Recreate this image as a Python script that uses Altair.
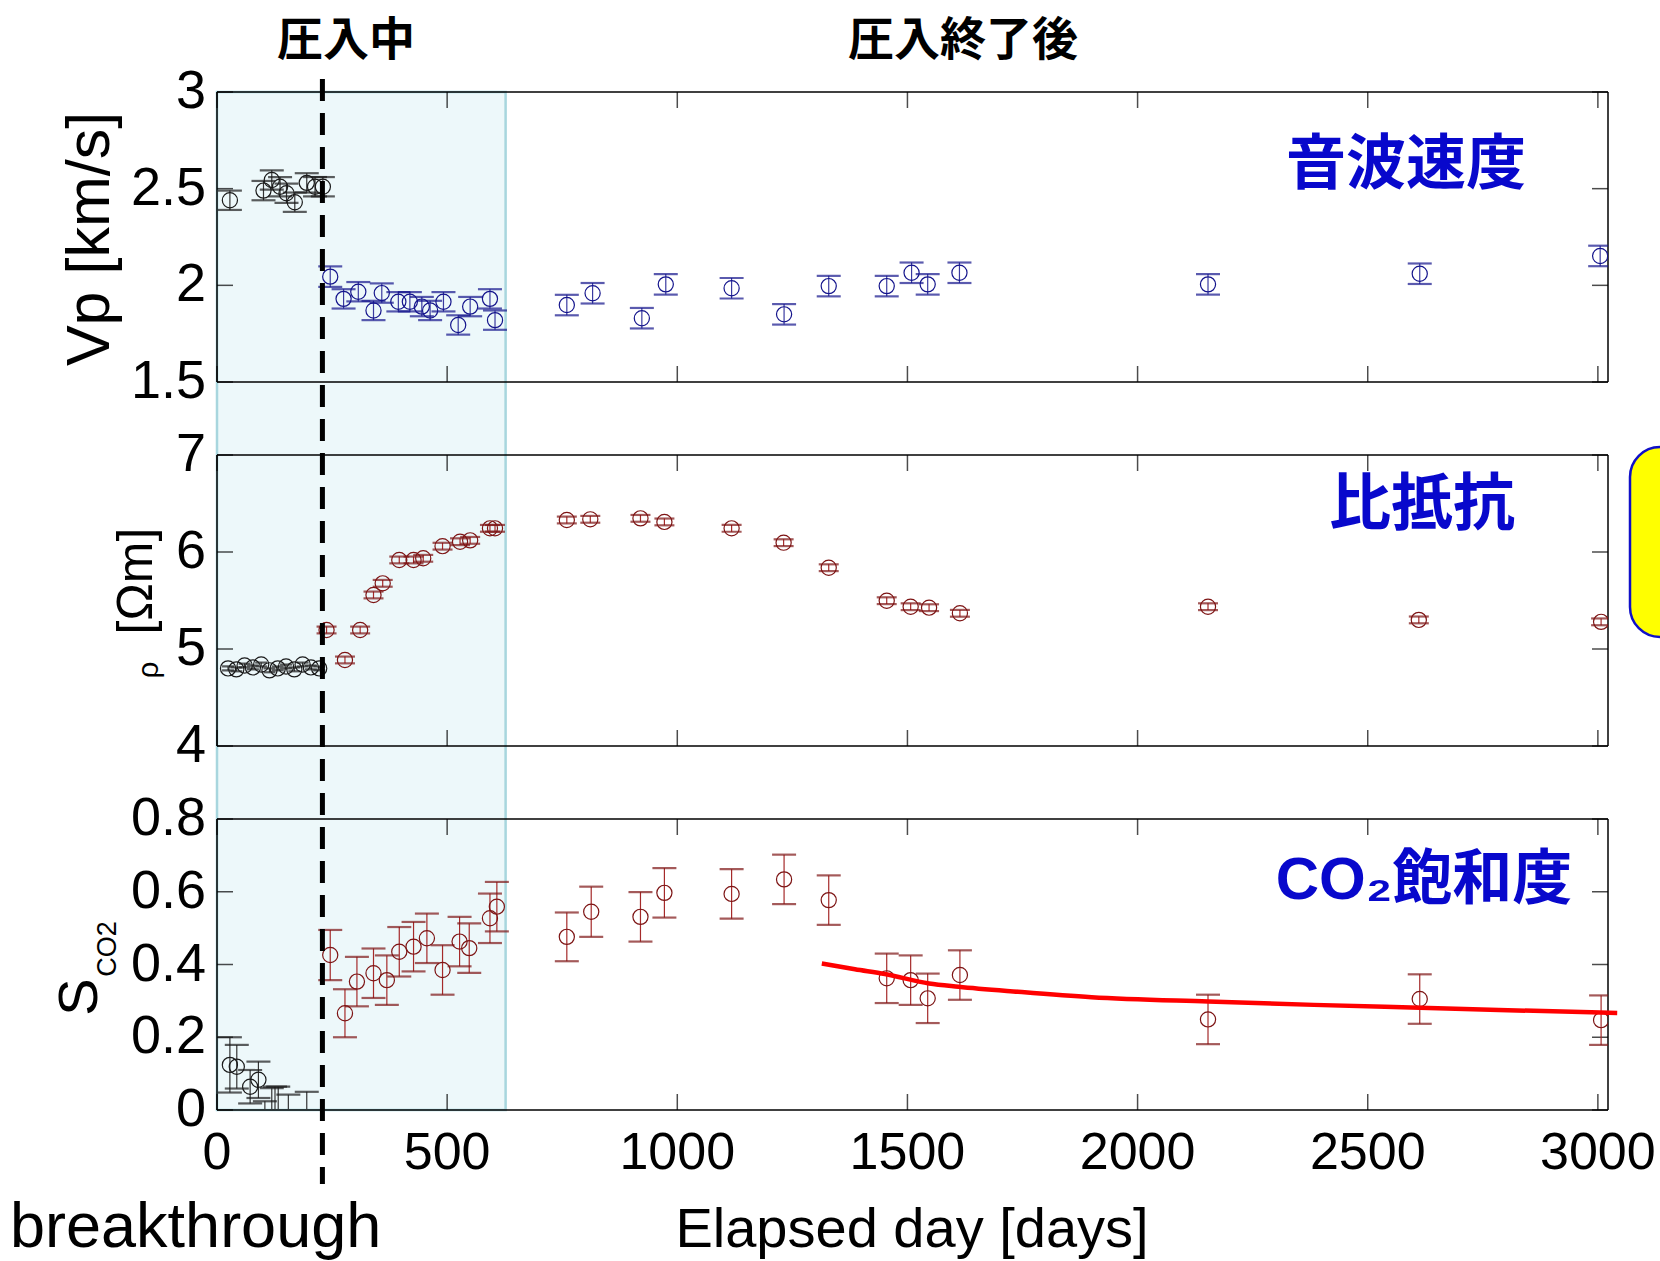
import altair as alt
import pandas as pd

# ---------------------------------------------------------------- data ---
# P-wave velocity [km/s]: before breakthrough (black) and after (blue)
vp_pre_day = [28, 101, 119, 137, 151, 169, 195, 213, 230]
vp_pre = [2.44, 2.49, 2.545, 2.51, 2.476, 2.43, 2.53, 2.51, 2.51]
vp_pre_err = [0.05, 0.05, 0.05, 0.05, 0.05, 0.05, 0.05, 0.05, 0.05]

vp_post_day = [246, 275, 307, 340, 358, 394, 419, 445, 463, 492, 524, 550, 593, 604,
               760, 816, 923, 975, 1118, 1232, 1329, 1455, 1509, 1544, 1613, 2153, 2613, 3005]
vp_post = [2.045, 1.93, 1.967, 1.87, 1.96, 1.915, 1.915, 1.89, 1.87, 1.915, 1.795, 1.89, 1.93, 1.82,
           1.898, 1.959, 1.83, 2.005, 1.985, 1.85, 1.996, 1.996, 2.065, 2.005, 2.065, 2.005, 2.06, 2.152]
vp_post_err = [0.053, 0.05, 0.05, 0.05, 0.05, 0.05, 0.05, 0.05, 0.05, 0.05, 0.05, 0.05, 0.05, 0.05,
               0.053, 0.053, 0.053, 0.053, 0.053, 0.053, 0.053, 0.053, 0.053, 0.053, 0.053, 0.053, 0.053, 0.053]

# Resistivity [ohm m]
rho_pre_day = [24, 42, 60, 78, 96, 114, 132, 150, 168, 186, 204, 222]
rho_pre = [4.80, 4.79, 4.83, 4.81, 4.84, 4.78, 4.80, 4.82, 4.79, 4.84, 4.81, 4.80]
rho_pre_err = [0.02, 0.02, 0.02, 0.02, 0.02, 0.02, 0.02, 0.02, 0.02, 0.02, 0.02, 0.02]

rho_post_day = [238, 278, 311, 340, 360, 396, 427, 448, 490, 528, 550, 593, 604,
                760, 811, 920, 972, 1118, 1231, 1329, 1455, 1507, 1547, 1614, 2153, 2611, 3007]
rho_post = [5.196, 4.887, 5.196, 5.557, 5.677, 5.918, 5.918, 5.935, 6.06, 6.106, 6.12, 6.244, 6.244,
            6.33, 6.337, 6.347, 6.31, 6.244, 6.096, 5.838, 5.498, 5.436, 5.426, 5.368, 5.436, 5.30, 5.28]
rho_post_err = [0.035, 0.035, 0.035, 0.035, 0.035, 0.035, 0.035, 0.035, 0.035, 0.035, 0.035, 0.035, 0.035,
                0.035, 0.035, 0.035, 0.035, 0.035, 0.035, 0.035, 0.035, 0.035, 0.035, 0.035, 0.035, 0.035, 0.035]

# CO2 saturation
sat_pre_day = [28, 43, 72, 90, 104, 119, 126, 133, 155, 195]
sat_pre = [0.124, 0.119, 0.064, 0.083, -0.04, -0.04, -0.04, -0.04, -0.04, -0.04]
sat_pre_err = [0.076, 0.06, 0.046, 0.05, 0.064, 0.10, 0.104, 0.104, 0.082, 0.09]

sat_post_day = [246, 278, 304, 340, 369, 396, 427, 456, 490, 527, 548, 593, 608,
                760, 813, 920, 972, 1118, 1232, 1329, 1455, 1507, 1544, 1614, 2153, 2613, 3007]
sat_post = [0.426, 0.266, 0.353, 0.376, 0.357, 0.435, 0.449, 0.472, 0.385, 0.463, 0.445, 0.527, 0.559,
            0.476, 0.545, 0.531, 0.597, 0.594, 0.634, 0.577, 0.362, 0.357, 0.307, 0.371, 0.249, 0.305, 0.247]
sat_post_err = [0.069, 0.066, 0.068, 0.068, 0.068, 0.068, 0.068, 0.068, 0.068, 0.068, 0.068, 0.068, 0.068,
                0.067, 0.069, 0.068, 0.068, 0.068, 0.068, 0.068, 0.068, 0.068, 0.068, 0.068, 0.068, 0.068, 0.068]

# fitted decay of CO2 saturation after injection
fit_day = [1314, 1386, 1451, 1547, 1611, 1740, 1900, 2153, 2383, 2613, 2785, 3042]
fit_sat = [0.403, 0.387, 0.374, 0.348, 0.339, 0.325, 0.310, 0.298, 0.289, 0.281, 0.275, 0.267]

# injection period and breakthrough
injection_start = [0]
injection_end = [627]
breakthrough_day = [229]

# ticks
x_ticks = [0, 500, 1000, 1500, 2000, 2500, 3000]
vp_ticks = [1.5, 2, 2.5, 3]
rho_ticks = [4, 5, 6, 7]
sat_ticks = [0, 0.2, 0.4, 0.6, 0.8]

# texts
phase_labels = ["圧入中", "圧入終了後"]
panel_labels = ["音波速度", "比抵抗", "CO₂飽和度"]
x_title = "Elapsed day [days]"
bt_label = "breakthrough"

# ------------------------------------------------------------- styling ---
W, H = 1391, 1018
NUM_FONT = "Liberation Sans, Arial, sans-serif"
TXT_FONT = "Liberation Sans, Arial, sans-serif"
CJK_FONT = "Noto Sans CJK JP, Noto Sans CJK SC, sans-serif"
NUM_SIZE = 52
ANNOT_BLUE = "#0808cc"

x_scale = alt.Scale(domain=[0, 3022], nice=False, zero=False)


def xq(field):
    return alt.X(f"{field}:Q", scale=x_scale, axis=None)


def err_df(days, vals, errs):
    df = pd.DataFrame({"day": days, "value": vals, "err": errs})
    df["lo"] = df["value"] - df["err"]
    df["hi"] = df["value"] + df["err"]
    return df


def series(df, ys, marker, bar, cap, cap_size=24):
    base = alt.Chart(df)
    bars = base.mark_rule(color=bar, strokeWidth=1.2, clip=True).encode(
        x=xq("day"), y=alt.Y("lo:Q", scale=ys, axis=None), y2="hi:Q")
    cap_hi = base.mark_tick(orient="horizontal", size=cap_size, thickness=2.2, color=cap, clip=True).encode(
        x=xq("day"), y=alt.Y("hi:Q", scale=ys, axis=None))
    cap_lo = base.mark_tick(orient="horizontal", size=cap_size, thickness=2.2, color=cap, clip=True).encode(
        x=xq("day"), y=alt.Y("lo:Q", scale=ys, axis=None))
    pts = base.mark_point(shape="circle", filled=False, size=230, strokeWidth=1.2,
                          color=marker, opacity=1, clip=True).encode(
        x=xq("day"), y=alt.Y("value:Q", scale=ys, axis=None))
    return [bars, cap_hi, cap_lo, pts]


def frame(lo, hi, ys, yticks):
    """Box, inward ticks and left tick labels of one panel."""
    edge = alt.Chart(pd.DataFrame({"top": [hi], "bottom": [lo]}))
    rule = dict(color="black", strokeWidth=1.5)
    top_rule = edge.mark_rule(**rule).encode(
        x=alt.value(0), x2=alt.value(W), y=alt.Y("top:Q", scale=ys, axis=None))
    bottom_rule = edge.mark_rule(**rule).encode(
        x=alt.value(0), x2=alt.value(W), y=alt.Y("bottom:Q", scale=ys, axis=None))
    left_rule = edge.mark_rule(**rule).encode(
        x=alt.value(0), y=alt.Y("bottom:Q", scale=ys, axis=None), y2="top:Q")
    right_rule = edge.mark_rule(**rule).encode(
        x=alt.value(W), y=alt.Y("bottom:Q", scale=ys, axis=None), y2="top:Q")
    xt = alt.Chart(pd.DataFrame({"tick": x_ticks}))
    xt_top = xt.mark_tick(orient="vertical", size=16, thickness=1.5, color="black", yOffset=8).encode(
        x=xq("tick"), y=alt.YDatum(hi, type="quantitative", scale=ys, axis=None))
    xt_bottom = xt.mark_tick(orient="vertical", size=16, thickness=1.5, color="black", yOffset=-8).encode(
        x=xq("tick"), y=alt.YDatum(lo, type="quantitative", scale=ys, axis=None))
    yt = alt.Chart(pd.DataFrame({"tick": yticks}))
    yt_left = yt.mark_tick(orient="horizontal", size=16, thickness=1.5, color="black").encode(
        x=alt.value(8), y=alt.Y("tick:Q", scale=ys, axis=None))
    yt_right = yt.mark_tick(orient="horizontal", size=16, thickness=1.5, color="black").encode(
        x=alt.value(W - 8), y=alt.Y("tick:Q", scale=ys, axis=None))
    y_labels = yt.mark_text(font=NUM_FONT, fontSize=NUM_SIZE + 2, color="black", align="right",
                            baseline="middle").encode(
        x=alt.value(-11), y=alt.Y("tick:Q", scale=ys, axis=None),
        text=alt.Text("tick:Q", format="~g"))
    return [top_rule, bottom_rule, left_rule, right_rule, xt_top, xt_bottom, yt_left, yt_right, y_labels]


# each panel gets its own vertical band of the plot area
vp_scale = alt.Scale(domain=[1.5, 3], range=[290, 0], nice=False, zero=False)
rho_scale = alt.Scale(domain=[4, 7], range=[654, 363], nice=False, zero=False)
sat_scale = alt.Scale(domain=[0, 0.8], range=[1018, 727], nice=False, zero=False)

BLACK = "#1a1a1a"
BLUE = "#14148c"
RED_PT = "#7d1414"
RED_BAR = "#a52a2a"

vp_panel = alt.layer(
    *frame(1.5, 3, vp_scale, vp_ticks),
    *series(err_df(vp_pre_day, vp_pre, vp_pre_err), vp_scale, BLACK, "#333333", BLACK),
    *series(err_df(vp_post_day, vp_post, vp_post_err), vp_scale, BLUE, "#3a3aa0", BLUE),
)

rho_panel = alt.layer(
    *frame(4, 7, rho_scale, rho_ticks),
    *series(err_df(rho_pre_day, rho_pre, rho_pre_err), rho_scale, BLACK, "#333333", BLACK, 12),
    *series(err_df(rho_post_day, rho_post, rho_post_err), rho_scale, RED_PT, RED_BAR, RED_PT, 20),
)

fit = alt.Chart(pd.DataFrame({"day": fit_day, "value": fit_sat})).mark_line(
    color="#ff0000", strokeWidth=4.5, interpolate="monotone").encode(
    x=xq("day"), y=alt.Y("value:Q", scale=sat_scale, axis=None))

x_labels = alt.Chart(pd.DataFrame({"tick": x_ticks})).mark_text(
    font=NUM_FONT, fontSize=NUM_SIZE, color="black", align="center", baseline="top").encode(
    x=xq("tick"), y=alt.value(H + 18), text=alt.Text("tick:Q", format="~g"))

sat_panel = alt.layer(
    *frame(0, 0.8, sat_scale, sat_ticks),
    *series(err_df(sat_pre_day, sat_pre, sat_pre_err), sat_scale, BLACK, "#333333", BLACK),
    *series(err_df(sat_post_day, sat_post, sat_post_err), sat_scale, RED_PT, RED_BAR, RED_PT),
    fit,
    x_labels,
)

# injection period shading spans all three panels
shade = alt.Chart(pd.DataFrame({"start": injection_start, "end": injection_end})).mark_rect(
    fill="#edf8fa", stroke="#a8d6de", strokeWidth=2.5).encode(
    x=xq("start"), x2="end", y=alt.value(0), y2=alt.value(H))

bt_line = alt.Chart(pd.DataFrame({"day": breakthrough_day})).mark_rule(
    color="black", strokeWidth=5, strokeDash=[22, 12]).encode(
    x=xq("day"), y=alt.value(-13), y2=alt.value(1092))

one = pd.DataFrame({"t": [0]})


def label(text, x, y, size, font, color="black", weight="normal", angle=0,
          align="center", baseline="middle"):
    return alt.Chart(one).mark_text(
        text=text, font=font, fontSize=size, fontWeight=weight, color=color, angle=angle,
        align=align, baseline=baseline).encode(x=alt.value(x), y=alt.value(y))


texts = [
    label(phase_labels[0], 129, -51, 46, CJK_FONT, weight="bold"),
    label(phase_labels[1], 746, -51, 46, CJK_FONT, weight="bold"),
    label(panel_labels[0], 1189, 74, 60, CJK_FONT, ANNOT_BLUE, "bold"),
    label(panel_labels[1], 1205, 414, 62, CJK_FONT, ANNOT_BLUE, "bold"),
    label(panel_labels[2], 1207, 789, 60, "Liberation Sans, " + CJK_FONT, ANNOT_BLUE, "bold"),
    label(x_title, 695, 1155, 56, TXT_FONT, baseline="alphabetic"),
    label(bt_label, -207, 1155, 63, TXT_FONT, align="left", baseline="alphabetic"),
    label("Vp [km/s]", -126, 147, 61, TXT_FONT, angle=270),
    label("[Ωm]", -80, 489, 50, TXT_FONT, angle=270),
    label("ρ", -68, 578, 30, TXT_FONT, angle=270),
    label("S", -137, 905, 56, TXT_FONT, angle=270),
    label("CO2", -109, 857, 27, TXT_FONT, angle=270),
]

note_box = alt.Chart(one).mark_rect(
    fill="#ffff00", stroke="#1010c8", strokeWidth=2.5, cornerRadius=30).encode(
    x=alt.value(1413), x2=alt.value(1500), y=alt.value(355), y2=alt.value(545))

chart = alt.layer(
    shade, vp_panel, rho_panel, sat_panel, bt_line, note_box, *texts
).resolve_scale(y="independent").properties(
    width=W, height=H,
    padding={"left": 217, "top": 92, "right": 52, "bottom": 151},
    autosize=alt.AutoSizeParams(type="none"),
    background="white",
).configure_view(stroke="transparent")

chart.save("out.html", embed_options={"renderer": "svg", "actions": False})
